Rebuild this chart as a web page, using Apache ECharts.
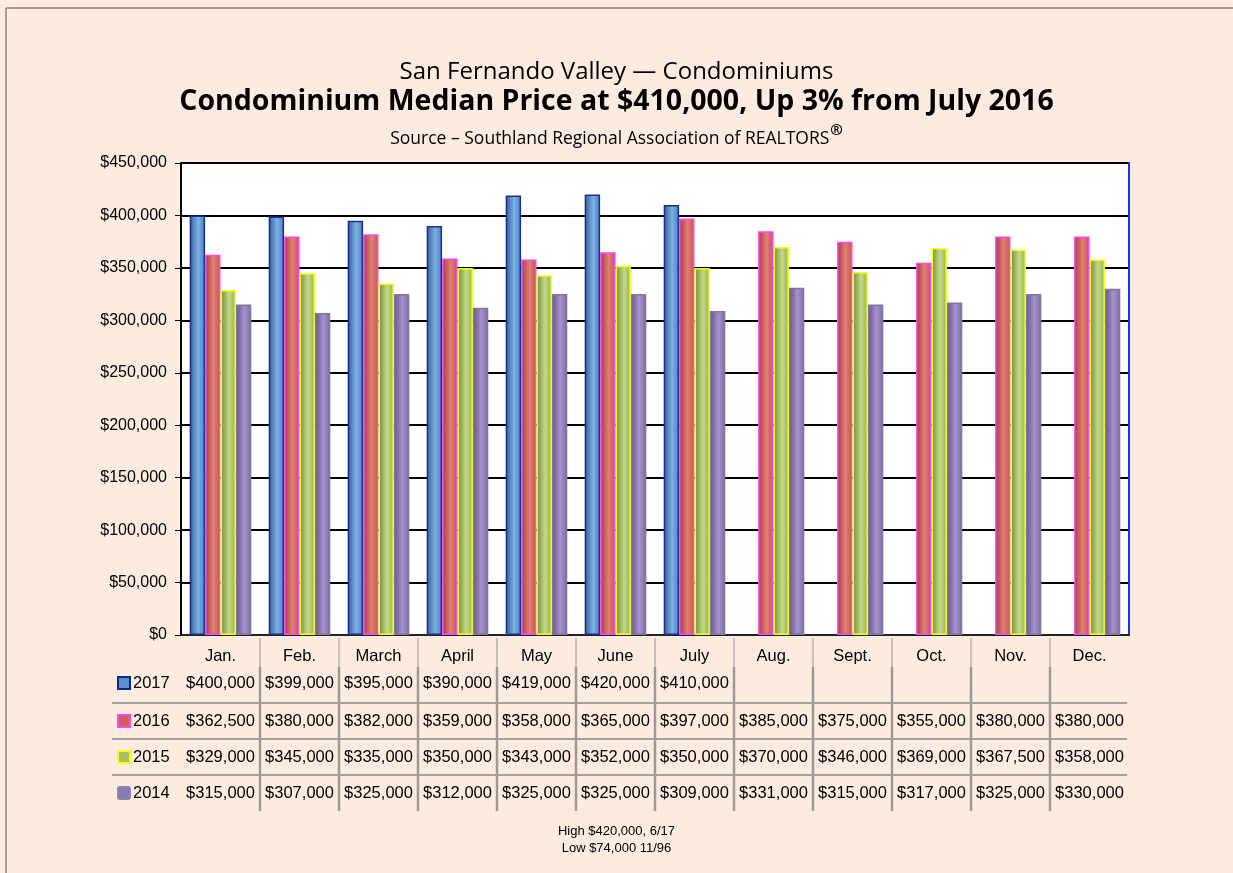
<!DOCTYPE html>
<html><head><meta charset="utf-8">
<script src="https://cdn.jsdelivr.net/npm/echarts@6/dist/echarts.min.js"></script>
<style>html,body{margin:0;padding:0;background:#fdebdf;}#c{width:1233px;height:873px;}</style>
</head><body><div id="c"></div>
<script>
const months = ['Jan.','Feb.','March','April','May','June','July','Aug.','Sept.','Oct.','Nov.','Dec.'];
const seriesNames = ['2017','2016','2015','2014'];
const y2017 = [400000,399000,395000,390000,419000,420000,410000,null,null,null,null,null];
const y2016 = [362500,380000,382000,359000,358000,365000,397000,385000,375000,355000,380000,380000];
const y2015 = [329000,345000,335000,350000,343000,352000,350000,370000,346000,369000,367500,358000];
const y2014 = [315000,307000,325000,312000,325000,325000,309000,331000,315000,317000,325000,330000];
const yTicks = [0,50000,100000,150000,200000,250000,300000,350000,400000,450000];
const titleMain = 'San Fernando Valley — Condominiums';
const titleBold = 'Condominium Median Price at $410,000, Up 3% from July 2016';
const sourceText = 'Source – Southland Regional Association of REALTORS';
const noteLines = ['High $420,000, 6/17','Low $74,000 11/96'];

const allData = [y2017,y2016,y2015,y2014];
const styles = [
  {stops:['#2f5f99','#7db0e4','#4a7fbf'], border:'#1a2f8f', leg:'#5b8fd0', legBorder:'#0a2a90'},
  {stops:['#9c3f3b','#e47d76','#c0564f'], border:'#ff44ff', leg:'#d0605a', legBorder:'#ff44ff'},
  {stops:['#718a3c','#c2da86','#93b058'], border:'#ffff00', leg:'#a6c06a', legBorder:'#ffff00'},
  {stops:['#635287','#a892cc','#7d6aa6'], border:'#7a7a9e', leg:'#8a78b0', legBorder:'#8a86b0'}
];
const fmt = v => v == null ? '' : '$' + v.toLocaleString('en-US');

const chart = echarts.init(document.getElementById('c'), null, {renderer:'canvas'});
const series = allData.map((d,i) => ({
  name: seriesNames[i], type:'bar', data:d, barGap:'0%', barCategoryGap:'22%',
  itemStyle:{
    color:new echarts.graphic.LinearGradient(0,0,1,0,[
      {offset:0,color:styles[i].stops[0]},{offset:0.55,color:styles[i].stops[1]},{offset:1,color:styles[i].stops[2]}]),
    borderColor:styles[i].border, borderWidth:1.5
  }
}));

chart.setOption({
  backgroundColor:'#fdebdf',
  animation:false,
  title:[
    {text:titleMain, left:'center', top:55, textStyle:{fontFamily:'Open Sans', fontWeight:'normal', fontSize:24, color:'#000'}},
    {text:titleBold, left:'center', top:82, textStyle:{fontFamily:'Open Sans', fontWeight:'bold', fontSize:28.5, color:'#000'}},
    {text:'{a|'+sourceText+'}{b|®}', left:'center', top:118, textStyle:{fontWeight:'normal', rich:{
      a:{fontFamily:'Open Sans', fontSize:17.5, fontWeight:'normal', color:'#000', verticalAlign:'bottom'},
      b:{fontFamily:'Open Sans', fontSize:15, color:'#000', fontWeight:'bold', verticalAlign:'top', padding:[0,0,10,1]}}}},
    {text:noteLines.join('\n'), left:'center', top:818, textStyle:{fontFamily:'Liberation Sans', fontWeight:'normal', fontSize:13, color:'#000', lineHeight:17}}
  ],
  grid:{left:181, right:104, top:163, bottom:238, show:true, backgroundColor:'#ffffff', borderWidth:0},
  xAxis:{type:'category', data:months, axisLine:{show:true, lineStyle:{color:'#222', width:2}},
    axisTick:{show:false}, axisLabel:{show:false}},
  yAxis:[{type:'value', min:0, max:450000, interval:50000,
    axisLine:{show:true, lineStyle:{color:'#000', width:2}},
    axisTick:{show:true, inside:false, length:6, lineStyle:{color:'#000'}},
    axisLabel:{formatter:v=>fmt(v), fontFamily:'Liberation Sans', fontSize:16, color:'#000', margin:14},
    splitLine:{show:true, lineStyle:{color:'#000', width:2}}},
    {type:'value', min:0, max:450000, interval:50000, position:'right',
     axisLine:{show:true, lineStyle:{color:'#1133ff', width:2}}, axisTick:{show:false}, axisLabel:{show:false}, splitLine:{show:false}}],
  series:series
});

// Data table built from the arrays, positioned from the axis
function buildTable(){
  const g = [];
  const x0 = chart.convertToPixel({xAxisIndex:0}, 0);
  const x1 = chart.convertToPixel({xAxisIndex:0}, 1);
  const colW = x1 - x0;
  const left = x0 - colW/2;
  const right = left + colW*months.length;
  const headerY = 656, rowY = [683,721,757,793];
  months.forEach((m,i)=>{
    const cx = chart.convertToPixel({xAxisIndex:0}, i);
    g.push({type:'text', x:cx, y:headerY, style:{text:m, font:'16.5px "Liberation Sans"', fill:'#000', align:'center', verticalAlign:'middle'}});
    allData.forEach((d,r)=>{
      g.push({type:'text', x:cx, y:rowY[r], style:{text:fmt(d[i]), font:'16.5px "Liberation Sans"', fill:'#000', align:'center', verticalAlign:'middle'}});
    });
    if(i>0){
      const bx = Math.round(left + colW*i);
      g.push({type:'line', shape:{x1:bx,y1:638,x2:bx,y2:667}, style:{stroke:'#c8c0bb', lineWidth:2}});
      g.push({type:'line', shape:{x1:bx,y1:667,x2:bx,y2:811}, style:{stroke:'#9a9a9a', lineWidth:2.5}});
    }
  });
  [703,739,775].forEach(y=>{
    g.push({type:'line', shape:{x1:112,y1:y,x2:right-2,y2:y}, style:{stroke:'#a0a0a0', lineWidth:2}});
  });
  seriesNames.forEach((n,r)=>{
    g.push({type:'rect', shape:{x:118,y:rowY[r]-6,width:12,height:12, r: r===3?2:0}, style:{fill:styles[r].leg, stroke:styles[r].legBorder, lineWidth:2}});
    g.push({type:'text', x:133, y:rowY[r], style:{text:n, font:'16.5px "Liberation Sans"', fill:'#000', align:'left', verticalAlign:'middle'}});
  });
  g.push({type:'rect', shape:{x:6,y:8,width:1240,height:880}, style:{fill:'none', stroke:'#555', lineWidth:1}});
  chart.setOption({graphic:g});
}
buildTable();
</script></body></html>
